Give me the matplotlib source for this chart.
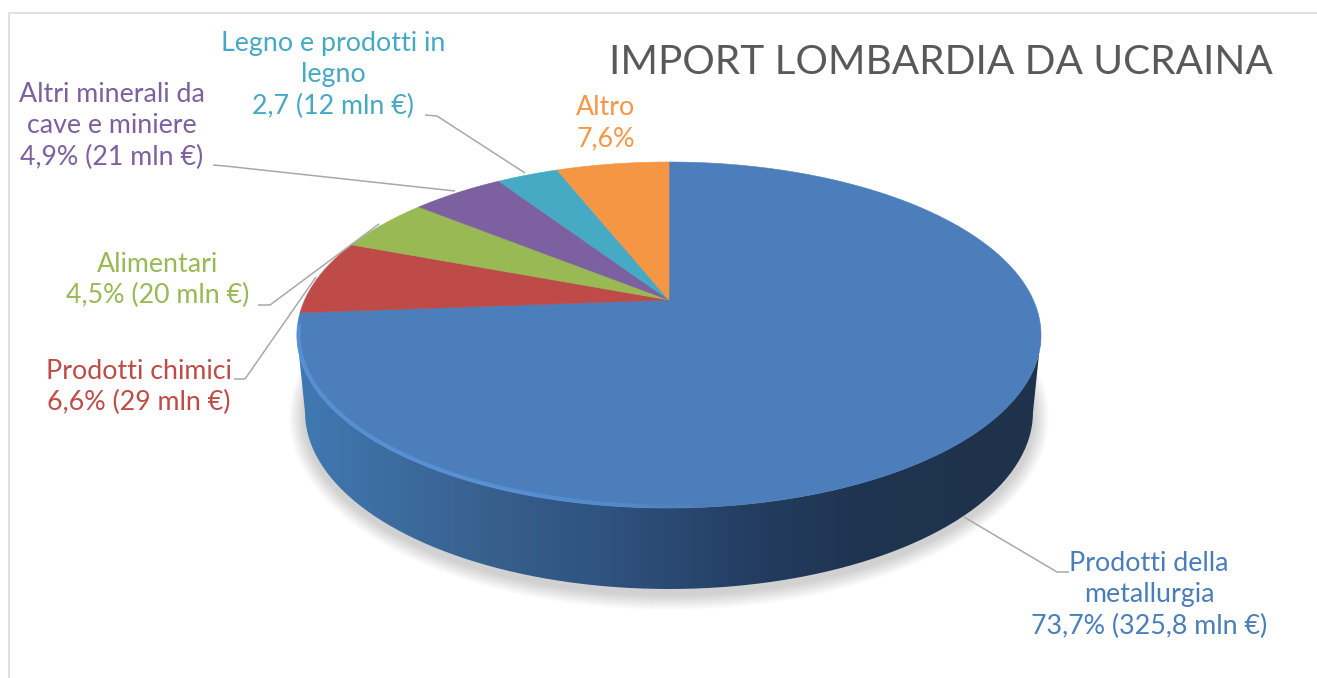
import numpy as np
import matplotlib
matplotlib.use("Agg")
import matplotlib.pyplot as plt
from matplotlib.collections import LineCollection
from matplotlib.colors import LinearSegmentedColormap, to_rgba
from matplotlib.patches import PathPatch
from matplotlib.path import Path

plt.rcParams['font.family'] = ['Lato', 'DejaVu Sans']

# They differ a little from the printed labels, which sum to 100.5.
categories = ["Prodotti della metallurgia", "Prodotti chimici", "Alimentari",
              "Altri minerali da cave e miniere", "Legno e prodotti in legno", "Altro"]
shares = [73.8, 7.0, 5.1, 4.9, 3.25, 5.95]
colors = ["#4c7ebb", "#be4b48", "#98b954", "#7d60a0", "#46aac5", "#f49643"]
text_colors = ["#4a7ebb", "#be4b48", "#98b954", "#7d60a0", "#46a9c4", "#f79646"]
labels = ["Prodotti della\nmetallurgia\n73,7% (325,8 mln €)",
          "Prodotti chimici\n6,6% (29 mln €)",
          "Alimentari\n4,5% (20 mln €)",
          "Altri minerali da\ncave e miniere\n4,9% (21 mln €)",
          "Legno e prodotti in\nlegno\n2,7 (12 mln €)",
          "Altro\n7,6%"]
label_xy = [(1149, 595), (139, 387), (158, 280), (112, 126), (333, 75), (606, 123)]
leaders = [[(1069, 572), (1057, 572), (964, 517)],
           [(234, 379), (245, 379), (316, 277)],
           [(258, 305), (270, 305), (379, 224)],
           [(213, 165), (225, 166), (455, 191)],
           [(425, 115), (437, 116), (525, 173)],
           ]
title = "IMPORT LOMBARDIA DA UCRAINA"

W, H = 1317, 678
cx, cy, rx, ry = 669.0, 335.0, 372.0, 173.0   # top face
bcy, brx, bry = 412.0, 364.0, 177.0           # bottom outline
a = 35.0 / 173.0                              # perspective: apex sits above the ellipse centre

fig = plt.figure(figsize=(W / 100, H / 100), dpi=100, facecolor="white")
ax = fig.add_axes([0, 0, 1, 1])
ax.set_xlim(0, W)
ax.set_ylim(H, 0)
ax.axis("off")


def face_point(theta):
    u, v = np.sin(theta), np.cos(theta)
    d = 1 + a * v
    return cx + rx * np.sqrt(1 - a * a) * u / d, cy - ry * (v + a) / d


# frame
ax.plot([8.5, 8.5, W], [H, 13, 13], color="#dcdcdc", lw=1.2, zorder=1)

# soft shadow
t = np.linspace(0, 2 * np.pi, 361)
for k in range(16, 0, -1):
    ax.fill(cx + (brx + k) * np.cos(t), bcy + 5 + (bry + k) * np.sin(t),
            color="#808080", alpha=0.022, lw=0, zorder=2)

# side wall
tb = np.linspace(0, np.pi, 181)
th = np.linspace(np.pi * 0.5, np.pi * 1.5, 361)
fx = cx + rx * np.sin(th)
fy = cy - ry * np.cos(th)
bx = cx + brx * np.cos(tb)
by = bcy + bry * np.sin(tb)
side = np.vstack([np.column_stack([fx[::-1], fy[::-1]]), np.column_stack([bx, by])])
clip = PathPatch(Path(np.vstack([side, side[:1]])), transform=ax.transData, fc="none", ec="none")
ax.add_patch(clip)
stops = [(297, "#4079b3"), (400, "#3c6b9e"), (500, "#375e8c"), (600, "#305380"),
         (700, "#28456c"), (760, "#233c5f"), (860, "#1f3450"), (1041, "#1e324b")]
cmap = LinearSegmentedColormap.from_list(
    "side", [((x - 297) / (1041 - 297), c) for x, c in stops])
im = ax.imshow(np.linspace(0, 1, 745)[None, :], cmap=cmap, vmin=0, vmax=1, aspect="auto",
               extent=(297, 1041, 600, 300), zorder=3, interpolation="bilinear")
im.set_clip_path(clip)
ax.set_xlim(0, W)
ax.set_ylim(H, 0)

# top face slices
edges = np.radians(np.cumsum([0] + shares) / np.sum(shares) * 360)
apex = (cx, cy - ry * a)
for i in range(len(shares)):
    tt = np.linspace(edges[i], edges[i + 1], 300)
    x, y = face_point(tt)
    ax.fill(np.r_[apex[0], x], np.r_[apex[1], y], color=colors[i], lw=0.4, zorder=4)

# rim highlight on the lower-left edge
tr = np.linspace(np.pi * 0.98, np.pi * 1.52, 200)
xr = cx + (rx - 1.5) * np.sin(tr)
yr = cy - (ry - 1.5) * np.cos(tr)
pts = np.column_stack([xr, yr])
segs = np.stack([pts[:-1], pts[1:]], axis=1)
fade = np.clip((800 - xr[:-1]) / 300, 0, 1) * np.clip((tr[:-1] - np.pi * 0.98) / 0.25 + 0.4, 0, 1)
rim = LineCollection(segs, colors=[to_rgba("#5f9fe6", 0.6 * f) for f in fade], linewidths=3.0, zorder=5)
ax.add_collection(rim)

# leader lines
for pl in leaders:
    xs, ys = zip(*pl)
    ax.plot(xs, ys, color="#a8a8a8", lw=1.1, zorder=6, solid_capstyle="butt")

# labels
for s, (x, y), c in zip(labels, label_xy, text_colors):
    ax.text(x, y, s, color=c, fontsize=19.3, ha="center", va="center",
            multialignment="center", linespacing=1.33, zorder=7)

ax.text(940.5, 63, title, color="#595959", fontsize=29.2, ha="center", va="center", zorder=7)

fig.savefig("out.png", dpi=100, facecolor="white")
